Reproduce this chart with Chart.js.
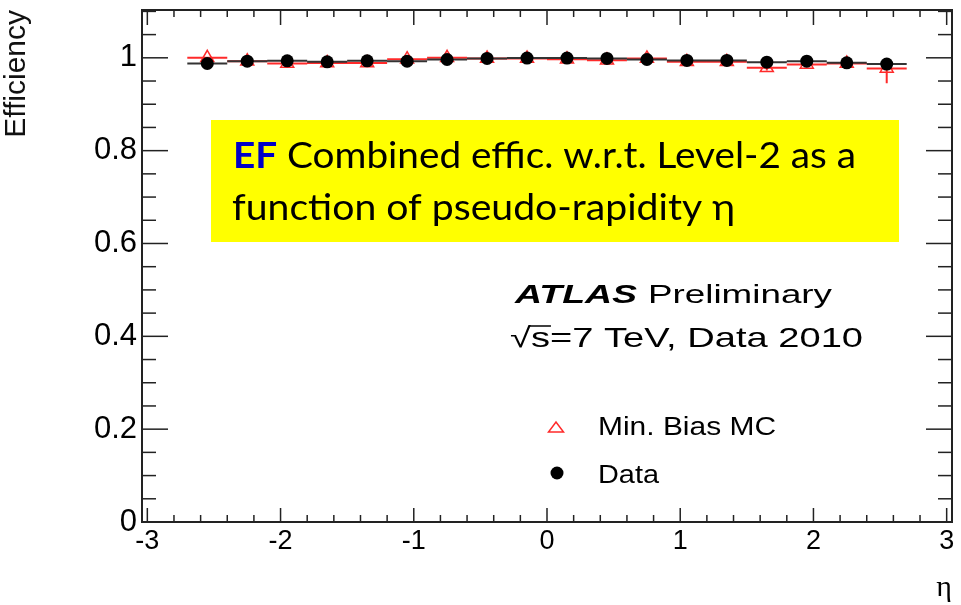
<!DOCTYPE html>
<html><head><meta charset="utf-8">
<script src="https://cdn.jsdelivr.net/npm/chart.js@4.4.1/dist/chart.umd.min.js"></script>
<style>html,body{margin:0;padding:0;background:#fff;}canvas{display:block;}</style>
</head><body>
<canvas id="c" width="961" height="605"></canvas>
<script>
// ---- data ----
const etaCenters   = [-2.55,-2.25,-1.95,-1.65,-1.35,-1.05,-0.75,-0.45,-0.15,0.15,0.45,0.75,1.05,1.35,1.65,1.95,2.25,2.55];
const etaHalfWidth = [0.15,0.15,0.15,0.15,0.15,0.15,0.15,0.15,0.15,0.15,0.15,0.15,0.15,0.15,0.15,0.15,0.15,0.15];
const dataEff      = [0.9878,0.9928,0.9935,0.9914,0.9935,0.9928,0.9964,0.9986,0.9995,0.9995,0.9986,0.9964,0.9943,0.9943,0.9907,0.9928,0.9892,0.9864];
const dataErr      = [0.002,0.002,0.002,0.002,0.002,0.002,0.002,0.001,0.001,0.001,0.001,0.002,0.002,0.002,0.002,0.002,0.002,0.003];
const mcEff        = [1.0,0.9928,0.9878,0.989,0.989,0.997,1.0,0.9986,0.9986,0.997,0.995,0.9986,0.9914,0.9914,0.9785,0.9856,0.9878,0.977];
const mcErrLow     = [0.004,0.004,0.004,0.004,0.004,0.003,0.002,0.002,0.002,0.002,0.003,0.002,0.004,0.004,0.006,0.005,0.005,0.032];
const mcErrHigh    = [0.0,0.004,0.004,0.004,0.004,0.003,0.0,0.001,0.001,0.002,0.003,0.001,0.004,0.004,0.006,0.005,0.005,0.02];
const xTickValues  = [-3,-2,-1,0,1,2,3];
const xTickLabels  = ['-3','-2','-1','0','1','2','3'];
const yTickValues  = [0,0.2,0.4,0.6,0.8,1];
const yTickLabels  = ['0','0.2','0.4','0.6','0.8','1'];
const seriesNames  = ['Min. Bias MC','Data'];

// ---- helpers building datasets from arrays ----
function hBars(vals){
  const p=[];
  etaCenters.forEach((c,i)=>{p.push({x:c-etaHalfWidth[i],y:vals[i]},{x:c+etaHalfWidth[i],y:vals[i]},{x:c+etaHalfWidth[i],y:null});});
  return p;
}
function vBars(vals,lo,hi){
  const p=[];
  etaCenters.forEach((c,i)=>{p.push({x:c,y:vals[i]-lo[i]},{x:c,y:vals[i]+hi[i]},{x:c,y:null});});
  return p;
}
const pts = vals => etaCenters.map((c,i)=>({x:c,y:vals[i]}));

const SANS = "'Liberation Sans', Arial, Helvetica, sans-serif";
const RED = '#ff2a2a';

const frameTicks = {
  id:'frameTicks',
  beforeDatasetsDraw(chart){
    const {ctx, chartArea:{left,right,top,bottom}, scales:{x,y}} = chart;
    ctx.save();
    ctx.strokeStyle='#222'; ctx.lineWidth=1.5;
    const seg=(a,b,c,d)=>{ctx.beginPath();ctx.moveTo(a,b);ctx.lineTo(c,d);ctx.stroke();};
    for(let k=-15;k<=15;k++){
      const px=x.getPixelForValue(k*0.2), major=(k%5===0);
      seg(px,bottom,px,bottom-(major?14:7));
      seg(px,top,px,top+(major?15:7));
    }
    for(let k=0;k<=22;k++){
      const py=y.getPixelForValue(k*0.05), major=(k%4===0);
      seg(left,py,left+(major?26:14),py);
      seg(right,py,right-(major?26:14),py);
    }
    ctx.lineWidth=2; ctx.strokeStyle='#222';
    ctx.strokeRect(left,top,right-left,bottom-top);
    ctx.restore();
  }
};

function fitText(ctx,text,x,base,w,font,color){
  ctx.save(); ctx.font=font; const m=ctx.measureText(text).width;
  ctx.translate(x,base); ctx.scale(w/m,1);
  ctx.fillStyle=color; ctx.textAlign='left'; ctx.textBaseline='alphabetic';
  ctx.fillText(text,0,0); ctx.restore();
  return w/m;
}

const annotations = {
  id:'annotations',
  afterDraw(chart){
    const ctx=chart.ctx;
    // yellow box
    ctx.save();
    ctx.fillStyle='#ffff00'; ctx.fillRect(211,120,688,122);
    const fB="bold 36px Lato, 'Open Sans', sans-serif", fN="36px Lato, 'Open Sans', sans-serif";
    ctx.font=fB; const wEF=ctx.measureText('EF').width;
    ctx.font=fN; const rest=' Combined effic. w.r.t. Level-2 as a'; const wR=ctx.measureText(rest).width;
    const s1=623/(wEF+wR);
    ctx.translate(233,168); ctx.scale(s1,1);
    ctx.font=fB; ctx.fillStyle='#0000c8'; ctx.fillText('EF',0,0);
    ctx.font=fN; ctx.fillStyle='#000'; ctx.fillText(rest,wEF,0);
    ctx.restore();
    fitText(ctx,'function of pseudo-rapidity η',232,220,503,fN,'#000');
    // ATLAS label
    fitText(ctx,'ATLAS',515,303,122,"italic bold 25px "+SANS,'#000');
    fitText(ctx,'Preliminary',648,303,184,"25px "+SANS,'#000');
    const f3="28px "+SANS, t3='√s=7 TeV, Data 2010';
    const sc=fitText(ctx,t3,510,347,353,f3,'#000');
    // overline of the square root over "s"
    ctx.save(); ctx.font=f3;
    const a=ctx.measureText('√').width*sc, b=ctx.measureText('√s').width*sc;
    ctx.strokeStyle='#000'; ctx.lineWidth=1.5;
    ctx.beginPath(); ctx.moveTo(510+a-1,326); ctx.lineTo(510+b+1,326); ctx.stroke();
    ctx.restore();
    // legend
    ctx.save();
    ctx.strokeStyle=RED; ctx.lineWidth=1.5;
    ctx.beginPath(); ctx.moveTo(548.5,432); ctx.lineTo(563.5,432); ctx.lineTo(556,422); ctx.closePath(); ctx.stroke();
    ctx.fillStyle='#000'; ctx.beginPath(); ctx.arc(557,473,6.5,0,Math.PI*2); ctx.fill();
    ctx.restore();
    fitText(ctx,seriesNames[0],598,435,178,"26px "+SANS,'#000');
    fitText(ctx,seriesNames[1],598,483,61,"26px "+SANS,'#000');
  }
};

const noPad = s => { s.paddingTop=0; s.paddingBottom=0; s.paddingLeft=0; s.paddingRight=0; };

new Chart(document.getElementById('c'),{
  type:'scatter',
  data:{datasets:[
    {label:seriesNames[1],data:pts(dataEff),pointStyle:'circle',pointRadius:6.5,pointBackgroundColor:'#000',pointBorderWidth:0,showLine:false,order:1},
    {label:'data-x',data:hBars(dataEff),showLine:true,spanGaps:false,pointRadius:0,borderColor:'#333',borderWidth:2,order:2},
    {label:'data-y',data:vBars(dataEff,dataErr,dataErr),showLine:true,spanGaps:false,pointRadius:0,borderColor:'#333',borderWidth:2,order:3},
    {label:seriesNames[0],data:pts(mcEff),pointStyle:'triangle',pointRadius:7.5,pointBackgroundColor:'rgba(0,0,0,0)',pointBorderColor:RED,pointBorderWidth:1.5,showLine:false,order:4},
    {label:'mc-x',data:hBars(mcEff),showLine:true,spanGaps:false,pointRadius:0,borderColor:RED,borderWidth:2,order:5},
    {label:'mc-y',data:vBars(mcEff,mcErrLow,mcErrHigh),showLine:true,spanGaps:false,pointRadius:0,borderColor:RED,borderWidth:2,order:6}
  ]},
  options:{
    responsive:false, animation:false, devicePixelRatio:1,
    layout:{padding:{top:10,right:7,left:0,bottom:0}},
    plugins:{legend:{display:false},tooltip:{enabled:false}},
    scales:{
      x:{type:'linear',position:'bottom',min:-3.04,max:3.04,
        afterBuildTicks:s=>{s.ticks=xTickValues.map(v=>({value:v}));},
        afterFit:s=>{s.height=83; noPad(s);},
        grid:{display:false,drawTicks:false},border:{display:false},
        ticks:{callback:(v,i)=>xTickLabels[i],font:{family:SANS,size:27},color:'#000',padding:3,maxRotation:0,autoSkip:false},
        title:{display:true,text:'η',align:'end',color:'#000',font:{family:"'Liberation Serif', 'DejaVu Serif', serif",size:30,lineHeight:1},padding:{top:0,bottom:2}}
      },
      y:{type:'linear',position:'left',min:0,max:1.103,
        afterBuildTicks:s=>{s.ticks=yTickValues.map(v=>({value:v}));},
        afterFit:s=>{s.width=142; noPad(s);},
        grid:{display:false,drawTicks:false},border:{display:false},
        ticks:{callback:(v,i)=>yTickLabels[i],font:{family:SANS,size:31},color:'#000',padding:5,autoSkip:false},
        title:{display:true,text:'Efficiency',align:'end',color:'#111',font:{family:SANS,size:30,lineHeight:1.1},padding:{top:0,bottom:0}}
      }
    }
  },
  plugins:[frameTicks,annotations]
});
</script>
</body></html>
